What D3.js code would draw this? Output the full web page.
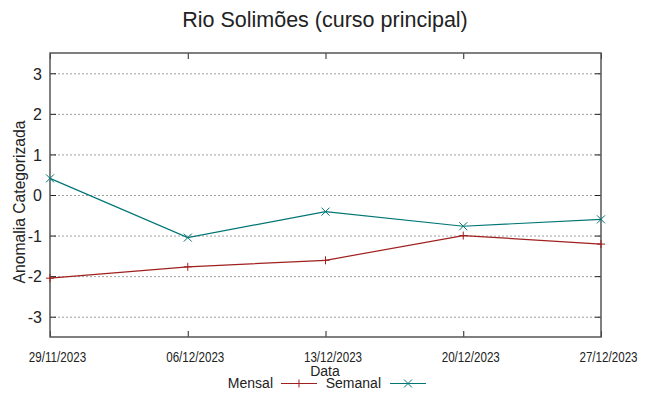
<!DOCTYPE html>
<html lang="pt">
<head>
  <meta charset="UTF-8">
  <title>Rio Solimões</title>
  <style>
    body { margin: 0; background: #fff; }
    text { font-family: "Liberation Sans", Arial, sans-serif; fill: #222; }
  </style>
</head>
<body>
  <svg id="svg" width="649" height="396"></svg>

  <script src="https://d3js.org/d3.v7.min.js"></script>
  <script>
    const dates = ["29/11/2023", "06/12/2023", "13/12/2023", "20/12/2023", "27/12/2023"]
    const mensal = [-2.05, -1.77, -1.61, -1.00, -1.21]
    const semanal = [0.41, -1.05, -0.41, -0.77, -0.60]
    const yTicks = [-3, -2, -1, 0, 1, 2, 3]

    const plotLeft = 50, plotRight = 601, plotTop = 53, plotBottom = 337

    const svg = d3.select("#svg")

    const x = d3.scalePoint()
      .domain(dates)
      .range([plotLeft, plotRight])

    const y = d3.scaleLinear()
      .domain([-3.5, 3.5])
      .range([plotBottom, plotTop])

    // grid
    svg.append("g")
      .selectAll("line")
      .data(yTicks)
      .enter()
      .append("line")
      .attr("x1", plotLeft)
      .attr("x2", plotRight)
      .attr("y1", d => y(d) + 0.5)
      .attr("y2", d => y(d) + 0.5)
      .attr("stroke", "#a0a0a0")
      .attr("stroke-width", 1)
      .attr("stroke-dasharray", "2,2")

    // axes with inward ticks
    const axisL = svg.append("g")
      .attr("transform", `translate(${plotLeft},0)`)
      .call(d3.axisRight(y).tickValues(yTicks).tickSize(6).tickFormat(d => d))
    axisL.selectAll("text")
      .attr("x", -8)
      .attr("text-anchor", "end")
      .attr("dy", "0.36em")
      .style("font-size", "16px")

    svg.append("g")
      .attr("transform", `translate(${plotRight},0)`)
      .call(d3.axisLeft(y).tickValues(yTicks).tickSize(6).tickFormat(""))

    // narrow-looking date labels: squeeze horizontally
    const axisB = svg.append("g")
      .attr("transform", `translate(0,${plotBottom})`)
      .call(d3.axisTop(x).tickSize(6))
    axisB.selectAll("text")
      .attr("x", 0)
      .attr("y", 0)
      .attr("dy", "0")
      .attr("transform", "translate(7,24.5) scale(0.83,1)")
      .style("font-size", "14px")

    svg.append("g")
      .attr("transform", `translate(0,${plotTop})`)
      .call(d3.axisBottom(x).tickSize(6).tickFormat(""))

    svg.selectAll(".domain").remove()
    svg.selectAll(".tick line").attr("stroke", "#222")

    svg.append("rect")
      .attr("x", plotLeft)
      .attr("y", plotTop)
      .attr("width", plotRight - plotLeft)
      .attr("height", plotBottom - plotTop)
      .attr("fill", "none")
      .attr("stroke", "#555")
      .attr("stroke-width", 1.5)

    const line = d3.line()
      .x((d, i) => x(dates[i]))
      .y(d => y(d))

    const series = [
      { name: "Mensal", values: mensal, color: "#a01f1f", mark: "plus" },
      { name: "Semanal", values: semanal, color: "#007575", mark: "cross" }
    ]

    function drawMark(g, cx, cy, kind, color) {
      const s = 4
      if (kind === "plus") {
        g.append("path").attr("d", `M${cx - s},${cy}H${cx + s}M${cx},${cy - s}V${cy + s}`)
          .attr("stroke", color).attr("fill", "none")
      } else {
        g.append("path").attr("d", `M${cx - s},${cy - s}L${cx + s},${cy + s}M${cx - s},${cy + s}L${cx + s},${cy - s}`)
          .attr("stroke", color).attr("fill", "none")
      }
    }

    series.forEach(s => {
      svg.append("path")
        .datum(s.values)
        .attr("d", line)
        .attr("fill", "none")
        .attr("stroke", s.color)
        .attr("stroke-width", 1.2)
      const g = svg.append("g")
      s.values.forEach((v, i) => drawMark(g, x(dates[i]), y(v), s.mark, s.color))
    })

    // title and labels
    svg.append("text")
      .attr("x", 325)
      .attr("y", 27)
      .attr("text-anchor", "middle")
      .style("font-size", "21.5px")
      .text("Rio Solimões (curso principal)")

    svg.append("text")
      .attr("transform", `translate(25,202) rotate(-90)`)
      .attr("text-anchor", "middle")
      .style("font-size", "15.7px")
      .text("Anomalia Categorizada")

    svg.append("text")
      .attr("x", 325)
      .attr("y", 376)
      .attr("text-anchor", "middle")
      .style("font-size", "14px")
      .text("Data")

    // legend
    const legend = svg.append("g")
    const legendItems = [
      { textEnd: 273, lineX: 281 },
      { textEnd: 381, lineX: 390 }
    ]
    series.forEach((s, i) => {
      const li = legendItems[i]
      legend.append("text")
        .attr("x", li.textEnd)
        .attr("y", 388)
        .attr("text-anchor", "end")
        .style("font-size", "14px")
        .text(s.name)
      legend.append("line")
        .attr("x1", li.lineX)
        .attr("x2", li.lineX + 36)
        .attr("y1", 383.5)
        .attr("y2", 383.5)
        .attr("stroke", s.color)
        .attr("stroke-width", 1.2)
      drawMark(legend, li.lineX + 18, 383.5, s.mark, s.color)
    })
  </script>
</body>
</html>
